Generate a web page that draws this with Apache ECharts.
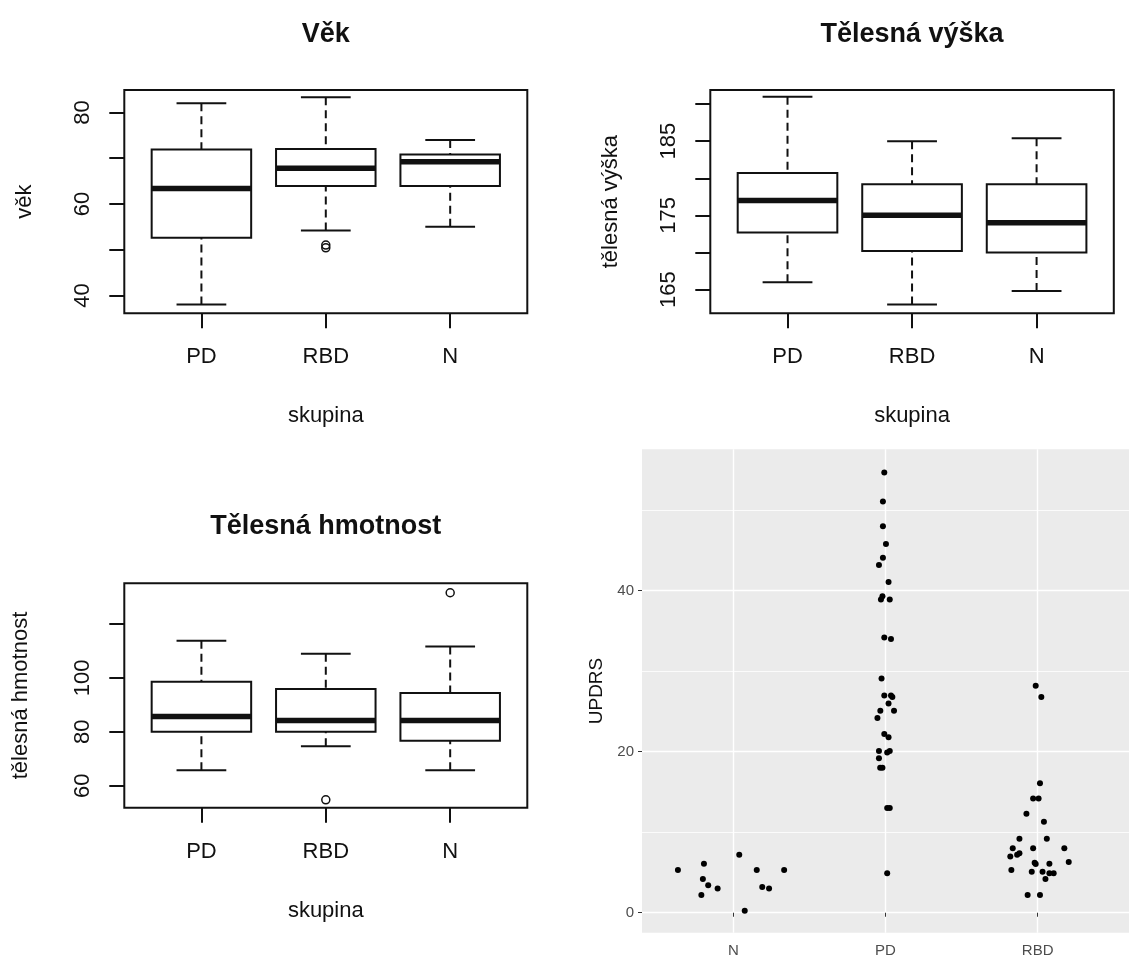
<!DOCTYPE html>
<html>
<head>
<meta charset="utf-8">
<script src="https://cdn.jsdelivr.net/npm/echarts@6/dist/echarts.min.js"></script>
<style>
html,body{margin:0;padding:0;background:#fff;}
#chart{width:1129px;height:959px;}
</style>
</head>
<body>
<div id="chart"></div>
<script>
// ---------- DATA ----------
const groupsR = ['PD', 'RBD', 'N'];           // order in the base-R boxplots
const groupsGG = ['N', 'PD', 'RBD'];          // order in the ggplot panel

// box stats: [min whisker, Q1, median, Q3, max whisker]
const vekPD  = [38.0, 52.6, 63.4, 71.9, 82.0];
const vekRBD = [54.2, 63.9, 67.8, 72.0, 83.3];
const vekN   = [55.0, 63.9, 69.2, 70.8, 74.0];
const vekOutRBD = [50.4, 51.0];

const vyskaPD  = [166.0, 172.7, 177.0, 180.7, 191.0];
const vyskaRBD = [163.0, 170.2, 175.0, 179.2, 185.0];
const vyskaN   = [164.8, 170.0, 174.0, 179.2, 185.4];

const hmotPD  = [65.8, 80.0, 85.7, 98.5, 113.7];
const hmotRBD = [74.7, 80.0, 84.2, 95.9, 108.9];
const hmotN   = [65.8, 76.7, 84.2, 94.4, 111.6];
const hmotOutRBD = [54.8];
const hmotOutN   = [131.5];

// tick values
const vekTicks = [40, 50, 60, 70, 80];
const vekLabels = [40, 60, 80];
const vyskaTicks = [165, 170, 175, 180, 185, 190];
const vyskaLabels = [165, 175, 185];
const hmotTicks = [60, 80, 100, 120];
const hmotLabels = [60, 80, 100];
const updrsMajor = [0, 20, 40];
const updrsMinor = [10, 30, 50];

// UPDRS jittered points: horizontal jitter (category units) and value
const jitterN = [-0.364, -0.193, -0.200, -0.165, -0.103, -0.210, 0.039, 0.075, 0.154, 0.190, 0.235, 0.334];
const updrsN  = [5.3, 6.1, 4.2, 3.4, 3.0, 2.2, 7.2, 0.25, 5.3, 3.2, 3.0, 5.3];

const jitterPD = [-0.008, -0.017, -0.017, 0.003, -0.017, -0.043, 0.020, -0.030, -0.020, 0.028, -0.008, 0.036,
                  -0.026, -0.008, 0.036, 0.045, 0.020, -0.034, 0.056, -0.053, -0.008, 0.020, -0.043, 0.011,
                  0.028, -0.043, -0.035, -0.020, 0.011, 0.028, 0.011];
const updrsPD  = [54.7, 51.1, 48.0, 45.8, 44.1, 43.2, 41.1, 38.9, 39.3, 38.9, 34.2, 34.0,
                  29.1, 27.0, 27.0, 26.8, 26.0, 25.1, 25.1, 24.2, 22.2, 21.8, 20.1, 19.9,
                  20.1, 19.2, 18.0, 18.0, 13.0, 13.0, 4.9];

const jitterRBD = [-0.013, 0.024, 0.015, -0.030, 0.006, -0.074, 0.041, -0.120, 0.060, -0.164, -0.030, 0.175,
                   -0.120, -0.135, -0.180, -0.020, -0.013, 0.077, 0.204, -0.173, -0.039, 0.032, 0.077, 0.105,
                   0.051, -0.066, 0.015];
const updrsRBD  = [28.2, 26.8, 16.1, 14.2, 14.2, 12.3, 11.3, 9.2, 9.2, 8.0, 8.0, 8.0,
                   7.4, 7.2, 7.0, 6.2, 6.05, 6.1, 6.3, 5.3, 5.1, 5.1, 4.9, 4.9,
                   4.2, 2.2, 2.2];

// ---------- CHART ----------
const FONT = '"Liberation Sans", Arial, sans-serif';
const INK = '#111';

function boxRows(list) {
  return list.map((s, i) => [i + 1, s[0], s[1], s[2], s[3], s[4]]);
}
function outRows(idx, vals) { return vals.map(v => [idx, v]); }

function boxRender(params, api) {
  const x = api.value(0);
  const lo = api.coord([x, api.value(1)]);
  const q1 = api.coord([x, api.value(2)]);
  const md = api.coord([x, api.value(3)]);
  const q3 = api.coord([x, api.value(4)]);
  const hi = api.coord([x, api.value(5)]);
  const unit = api.size([1, 0])[0];
  const bw = unit * 0.4, cw = unit * 0.2;
  const cx = lo[0];
  const dash = {stroke: INK, lineWidth: 2, lineDash: [8, 5], fill: null};
  const solid = {stroke: INK, lineWidth: 2, fill: null};
  return {
    type: 'group',
    children: [
      {type: 'line', shape: {x1: cx, y1: hi[1], x2: cx, y2: q3[1]}, style: dash},
      {type: 'line', shape: {x1: cx, y1: lo[1], x2: cx, y2: q1[1]}, style: dash},
      {type: 'line', shape: {x1: cx - cw, y1: hi[1], x2: cx + cw, y2: hi[1]}, style: solid},
      {type: 'line', shape: {x1: cx - cw, y1: lo[1], x2: cx + cw, y2: lo[1]}, style: solid},
      {type: 'rect', shape: {x: cx - bw, y: q3[1], width: 2 * bw, height: q1[1] - q3[1]},
       style: {fill: '#fff', stroke: INK, lineWidth: 2}},
      {type: 'line', shape: {x1: cx - bw, y1: md[1], x2: cx + bw, y2: md[1]},
       style: {stroke: INK, lineWidth: 5.5}}
    ]
  };
}

function rXAxis(gi) {
  return {
    gridIndex: gi, type: 'value', min: 0.38, max: 3.62,
    axisLine: {show: false}, splitLine: {show: false},
    axisTick: {show: true, length: 15, lineStyle: {color: INK, width: 2}, customValues: [1, 2, 3]},
    axisLabel: {customValues: [1, 2, 3], formatter: v => groupsR[Math.round(v) - 1],
                fontSize: 22, color: INK, margin: 33, fontFamily: FONT},
    name: 'skupina', nameLocation: 'middle', nameGap: 92,
    nameTextStyle: {fontSize: 22, color: INK, fontFamily: FONT}
  };
}
function rYAxis(gi, min, max, ticks, labels, name, gap) {
  return {
    gridIndex: gi, type: 'value', min: min, max: max,
    axisLine: {show: false}, splitLine: {show: false},
    axisTick: {show: true, length: 15, lineStyle: {color: INK, width: 2}, customValues: ticks},
    axisLabel: {customValues: labels, rotate: 90, fontSize: 22, color: INK, margin: 30, fontFamily: FONT},
    name: name, nameLocation: 'middle', nameGap: gap, nameRotate: 90,
    nameTextStyle: {fontSize: 22, color: INK, fontFamily: FONT}
  };
}

const chart = echarts.init(document.getElementById('chart'), null, {renderer: 'canvas'});

const dotStyle = {color: '#000', opacity: 1};

const option = {
  backgroundColor: '#fff',
  animation: false,
  graphic: [
    {type: 'text', x: 325.8, y: 35, style: {text: 'Věk', font: 'bold 27px ' + FONT, fill: INK, align: 'center', verticalAlign: 'middle'}},
    {type: 'text', x: 912, y: 35, style: {text: 'Tělesná výška', font: 'bold 27px ' + FONT, fill: INK, align: 'center', verticalAlign: 'middle'}},
    {type: 'text', x: 325.8, y: 527, style: {text: 'Tělesná hmotnost', font: 'bold 27px ' + FONT, fill: INK, align: 'center', verticalAlign: 'middle'}}
  ],
  grid: [
    {left: 124.3, top: 90, width: 403, height: 223.3, show: true, borderColor: INK, borderWidth: 2, backgroundColor: 'transparent'},
    {left: 710.3, top: 90, width: 403.5, height: 223.3, show: true, borderColor: INK, borderWidth: 2, backgroundColor: 'transparent'},
    {left: 124.3, top: 583.3, width: 403, height: 224.4, show: true, borderColor: INK, borderWidth: 2, backgroundColor: 'transparent'},
    {left: 642, top: 449.3, width: 499.8, height: 483.4, show: true, borderWidth: 0, backgroundColor: '#EBEBEB'}
  ],
  xAxis: [
    rXAxis(0), rXAxis(1), rXAxis(2),
    {
      gridIndex: 3, type: 'value', min: 0.4, max: 3.6,
      axisLine: {show: false},
      axisTick: {show: true, length: 4, lineStyle: {color: '#333', width: 1}, customValues: [1, 2, 3]},
      splitLine: {show: true, lineStyle: {color: '#fff', width: 1.4}},
      axisLabel: {customValues: [1, 2, 3], formatter: v => groupsGG[Math.round(v) - 1],
                  fontSize: 15, color: '#4D4D4D', margin: 11, fontFamily: FONT}
    }
  ],
  yAxis: [
    rYAxis(0, 36.1, 84.9, vekTicks, vekLabels, 'věk', 88),
    rYAxis(1, 161.8, 191.9, vyskaTicks, vyskaLabels, 'tělesná výška', 88),
    rYAxis(2, 51.9, 135.0, hmotTicks, hmotLabels, 'tělesná hmotnost', 92),
    {
      gridIndex: 3, type: 'value', min: -2.48, max: 57.57,
      axisLine: {show: false},
      axisTick: {show: true, length: 4, lineStyle: {color: '#333', width: 1}, customValues: updrsMajor},
      splitLine: {show: true, lineStyle: {color: '#fff', width: 1.4}},
      axisLabel: {customValues: updrsMajor, fontSize: 15, color: '#4D4D4D', margin: 8, fontFamily: FONT},
      name: 'UPDRS', nameLocation: 'middle', nameGap: 36, nameRotate: 90,
      nameTextStyle: {fontSize: 19, color: '#111', fontFamily: FONT}
    },
    {
      gridIndex: 3, type: 'value', min: -2.48, max: 57.57,
      axisLine: {show: false},
      axisTick: {show: false, customValues: updrsMinor},
      axisLabel: {show: false, customValues: updrsMinor},
      splitLine: {show: true, lineStyle: {color: '#fff', width: 0.8}}
    }
  ],
  series: [
    {type: 'custom', xAxisIndex: 0, yAxisIndex: 0, renderItem: boxRender, encode: {x: 0, y: [1, 2, 3, 4, 5]},
     data: boxRows([vekPD, vekRBD, vekN]), z: 2},
    {type: 'scatter', xAxisIndex: 0, yAxisIndex: 0, data: outRows(2, vekOutRBD), symbol: 'circle', symbolSize: 8,
     itemStyle: {color: 'transparent', borderColor: INK, borderWidth: 1.5, opacity: 1}, z: 3},
    {type: 'custom', xAxisIndex: 1, yAxisIndex: 1, renderItem: boxRender, encode: {x: 0, y: [1, 2, 3, 4, 5]},
     data: boxRows([vyskaPD, vyskaRBD, vyskaN]), z: 2},
    {type: 'custom', xAxisIndex: 2, yAxisIndex: 2, renderItem: boxRender, encode: {x: 0, y: [1, 2, 3, 4, 5]},
     data: boxRows([hmotPD, hmotRBD, hmotN]), z: 2},
    {type: 'scatter', xAxisIndex: 2, yAxisIndex: 2, data: outRows(2, hmotOutRBD).concat(outRows(3, hmotOutN)),
     symbol: 'circle', symbolSize: 8, itemStyle: {color: 'transparent', borderColor: INK, borderWidth: 1.5, opacity: 1}, z: 3},
    {type: 'scatter', xAxisIndex: 3, yAxisIndex: 3, symbolSize: 6, itemStyle: dotStyle,
     data: jitterN.map((d, i) => [1 + d, updrsN[i]])},
    {type: 'scatter', xAxisIndex: 3, yAxisIndex: 3, symbolSize: 6, itemStyle: dotStyle,
     data: jitterPD.map((d, i) => [2 + d, updrsPD[i]])},
    {type: 'scatter', xAxisIndex: 3, yAxisIndex: 3, symbolSize: 6, itemStyle: dotStyle,
     data: jitterRBD.map((d, i) => [3 + d, updrsRBD[i]])}
  ]
};
chart.setOption(option);
</script>
</body>
</html>
